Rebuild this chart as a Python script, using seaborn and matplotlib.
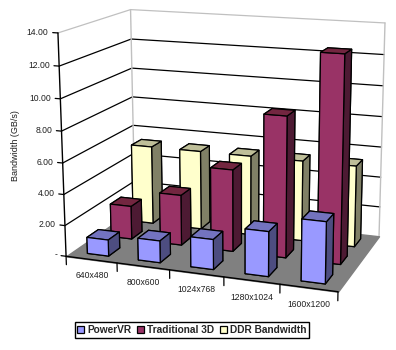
import numpy as np
import matplotlib
matplotlib.use('Agg')
import matplotlib.pyplot as plt
from matplotlib.patches import Patch
from mpl_toolkits.mplot3d import proj3d
from mpl_toolkits.mplot3d.art3d import Poly3DCollection
import seaborn as sns

resolutions = ['640x480', '800x600', '1024x768', '1280x1024', '1600x1200']
series_names = ['PowerVR', 'Traditional 3D', 'DDR Bandwidth']
powervr = [1.05, 1.4, 1.9, 2.8, 3.8]
traditional = [2.2, 3.3, 5.3, 9.0, 13.0]
ddr_bandwidth = [5.3, 5.3, 5.3, 5.3, 5.3]
y_ticks = [0, 2, 4, 6, 8, 10, 12, 14]
y_tick_labels = ['-', '2.00', '4.00', '6.00', '8.00', '10.00', '12.00', '14.00']

W, D, Z = 5, 3, 14

# box corners in data units and where they sit in the picture
corners_3d = [(0, 0, 0), (0, D, 0), (W, D, 0), (W, 0, 0), (0, 0, Z), (0, D, Z), (W, D, Z)]
corners_px = [(66, 256), (135, 209), (379, 236), (338, 292), (58, 33), (130.5, 9.5), (385, 23)]


def fit_camera(pts3d, pts2d):
    rows = []
    for (x, y, z), (u, v) in zip(pts3d, pts2d):
        rows.append([x, y, z, 1, 0, 0, 0, 0, -u * x, -u * y, -u * z, -u])
        rows.append([0, 0, 0, 0, x, y, z, 1, -v * x, -v * y, -v * z, -v])
    p = np.linalg.svd(np.array(rows, dtype=float))[2][-1].reshape(3, 4)
    return p if p[2, 3] > 0 else -p


sns.set_theme(style='white')
plt.rcParams['font.family'] = ['Liberation Sans', 'DejaVu Sans']

fig = plt.figure(figsize=(3.96, 3.5), dpi=100, facecolor='white')
ax = fig.add_axes([0, -23 / 350, 1, 396 / 350], projection='3d', computed_zorder=False)
ax.set_axis_off()
ax.apply_aspect()

# picture pixels -> 2d axes coordinates
px_to_disp = np.array([[1, 0, 0], [0, -1, 350], [0, 0, 1]], dtype=float)
disp_to_ax = ax.transData.inverted().get_matrix()
P = disp_to_ax @ px_to_disp @ fit_camera(corners_3d, corners_px)
M = np.vstack([P[0], P[1], [0, 0, 0, -1], P[2]])
ax.get_proj = lambda: M


def label_at(x, y, z, s, **kw):
    # projected by hand so the text is a plain 2d artist at its real place
    x2, y2, _ = proj3d.proj_transform(x, y, z, M)
    ax.text2D(x2, y2, s, transform=ax.transData, fontsize=6.2, color='#202020', va='center', **kw)


# walls and grid
wall_gray = '#c0c0c0'
for z in y_ticks[1:]:
    c = wall_gray if z == Z else 'black'
    ax.plot([0, 0, W], [0, D, D], [z, z, z], color=c, lw=0.9, zorder=1)
ax.plot([0, 0], [D, D], [0, Z], color=wall_gray, lw=1, zorder=1)
ax.plot([W, W], [D, D], [0, Z], color=wall_gray, lw=1, zorder=1)

floor = [[(0, 0, 0), (W, 0, 0), (W, D, 0), (0, D, 0)]]
ax.add_collection3d(Poly3DCollection(floor, facecolors='#808080', edgecolors='#808080', zorder=2))

# axis lines and ticks
ax.plot([0, 0], [0, 0], [0, Z], color='black', lw=1, zorder=3)
ax.plot([0, W], [0, 0], [0, 0], color='black', lw=1, zorder=3)
for z, lab in zip(y_ticks, y_tick_labels):
    ax.plot([0, -0.1], [0, 0], [z, z], color='black', lw=0.9, zorder=3)
    label_at(-0.18, 0, z, lab, ha='right')
for i in range(W + 1):
    ax.plot([i, i], [0, 0], [0, -0.55], color='black', lw=0.9, zorder=3)
for i, lab in enumerate(resolutions):
    label_at(i + 0.5, 0, -1.05, lab, ha='center')

# front, top and side shade of each series
front = sns.color_palette(['#9999FF', '#993366', '#FFFFCC'])
top = ['#7373BF', '#732640', '#BFBF99']
side = ['#4D4D80', '#4D1A33', '#808066']
values = [powervr, traditional, ddr_bandwidth]

bar_w, bar_d = 0.42, 0.47
order = 10
for j in [2, 1, 0]:
    for i in range(W):
        # -z, +z, -y, +y, -x, +x
        faces = [side[j], top[j], front[j], side[j], side[j], side[j]]
        ax.bar3d(i + 0.29, j + 0.27, 0, bar_w, bar_d, values[j][i], color=faces,
                 edgecolor='black', linewidth=0.9, shade=False, zorder=order)
        order += 1

fig.text(15 / 396, 1 - 146 / 350, 'Bandwidth (GB/s)', rotation=90, ha='center', va='center',
         fontsize=6.5, color='#202020')

handles = [Patch(facecolor=front[k], edgecolor='black', linewidth=0.9, label=series_names[k]) for k in range(3)]
leg = fig.legend(handles=handles, loc='center', bbox_to_anchor=(192 / 396, 1 - 330 / 350), ncol=3,
                 prop={'size': 7.3, 'weight': 'bold'}, fancybox=False, framealpha=1, edgecolor='black',
                 handlelength=0.7, handleheight=0.7, handletextpad=0.3, columnspacing=0.55,
                 borderpad=0.25, borderaxespad=0)
leg.get_frame().set_linewidth(1)

fig.savefig('out.png', dpi=100)
